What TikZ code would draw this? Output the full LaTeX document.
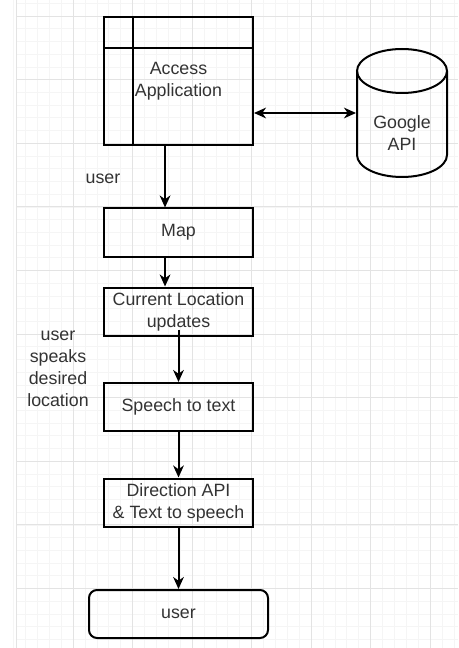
\documentclass[tikz,border=0pt]{standalone}
\usepackage{fontspec}
\setmainfont{Liberation Sans}
\usetikzlibrary{arrows.meta}

\definecolor{txtgray}{RGB}{51,51,51}
\tikzset{
	every picture/.style={line width=1.5pt},
	stepnode/.style={draw, rectangle, minimum width=111.75pt, minimum height=36pt, inner sep=2pt, align=center, text=txtgray, font=\fontsize{13.35pt}{16.5pt}\selectfont},
	endnode/.style={stepnode, rounded corners=6pt, minimum width=134.25pt},
	plain/.style={align=center, text=txtgray, font=\fontsize{13.35pt}{16.5pt}\selectfont},
	flow/.style={-{Stealth[length=9pt,width=8pt,inset=2.8pt]}},
	twoway/.style={{Stealth[length=9pt,width=8pt,inset=2.8pt]}-{Stealth[length=9pt,width=8pt,inset=2.8pt]}},
	majorgrid/.style={line width=0.6pt, draw=black!11},
	minorgrid/.style={line width=0.4pt, draw=black!4}}

\begin{document}
\begin{tikzpicture}[x=0.75pt,y=0.75pt,yscale=-1,xscale=1]
	\useasboundingbox (0,0) rectangle (458,648);

	% background grid
	\foreach \i in {0,...,37} {
		\draw[minorgrid] (13.5+11.9*\i,0) -- (13.5+11.9*\i,648);}
	\foreach \i in {-1,...,50} {
		\draw[minorgrid] (16,16+12.72*\i) -- (458,16+12.72*\i);}
	\foreach \i in {0,...,10} {
		\draw[majorgrid] (16,16+63.6*\i) -- (458,16+63.6*\i);}
	\foreach \i in {1,...,7} {
		\draw[majorgrid] (13.5+59.5*\i,0) -- (13.5+59.5*\i,648);}
	\draw[majorgrid] (16,0) -- (16,648);

	% Access Application (internal storage box)
	\node[stepnode, minimum height=96pt] (access) at (178.5,81) {Access\\Application};
	\draw ([xshift=22.5pt]access.north west) -- ([xshift=22.5pt]access.south west);
	\draw ([yshift=24pt]access.north west) -- ([yshift=24pt]access.north east);

	% Google API (database)
	\node[plain, minimum width=67.5pt] (google) at (402,133) {Google\\API};
	\draw (402,71) ellipse [x radius=45, y radius=22];
	\draw (357,71) -- (357,155) arc [start angle=180, end angle=0, x radius=45, y radius=22] -- (447,71);

	% Steps
	\node[stepnode] (map) at (178.5,232.5) {Map};
	\node[stepnode] (cur) at (178.5,311.5) {Current Location\\updates};
	\node[stepnode] (speech) at (178.5,407) {Speech to text};
	\node[stepnode] (dir) at (178.5,502.5) {Direction API\\\& Text to speech};
	\node[endnode] (user) at (178.5,614) {user};

	% Labels
	\node[plain] (lbluser) at (103,179) {user};
	\node[plain] (lblspeak) at (58,369) {user\\speaks\\desired\\location};

	% Connectors
	\draw[twoway] ([yshift=24pt]access.east) -- ([yshift=24pt]access.east -| google.west);
	\draw[flow] ([xshift=-10.1pt]access.south) -- ([xshift=-10.1pt]map.north);
	\draw[flow] ([xshift=-10.1pt]map.south) -- ([xshift=-10.1pt]cur.north);
	\draw[flow] ([yshift=-5.25pt]cur.south) -- (speech.north);
	\draw[flow] (speech.south) -- (dir.north);
	\draw[flow] (dir.south) -- (user.north);

\end{tikzpicture}
\end{document}
